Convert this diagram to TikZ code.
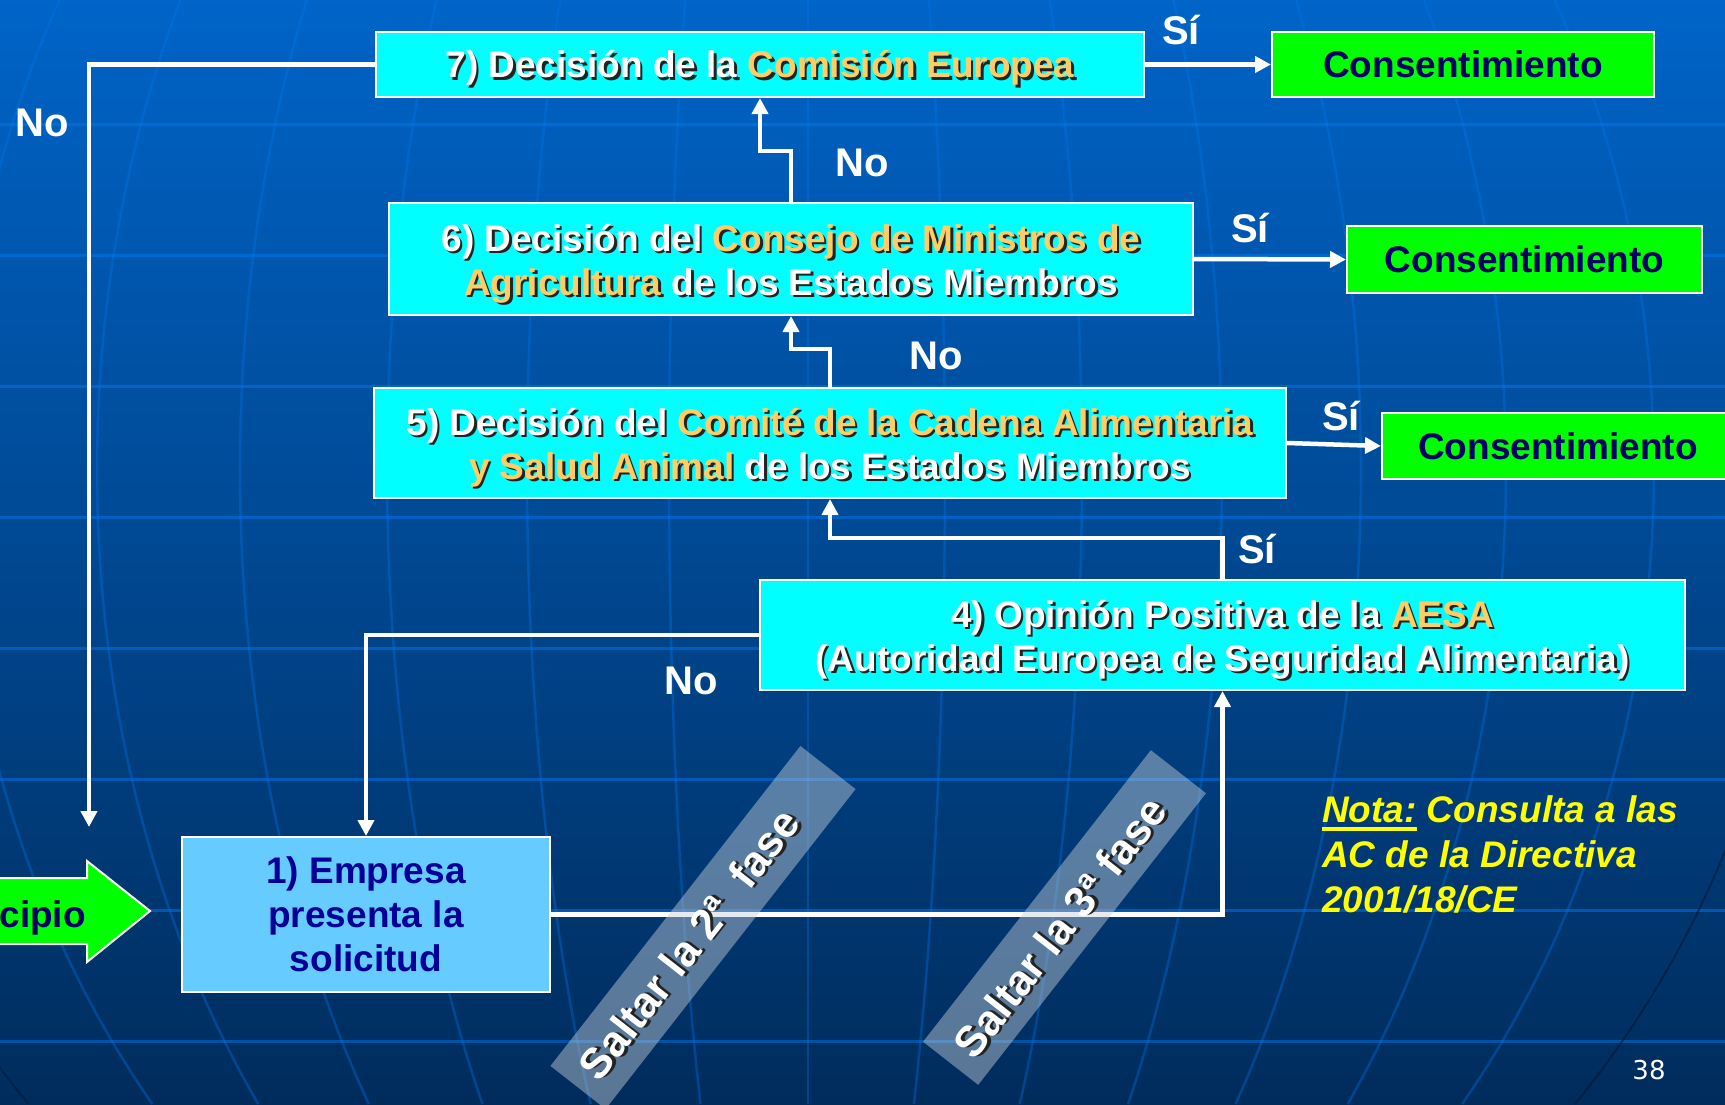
\documentclass[tikz,border=0pt]{standalone}
\usepackage{fontspec}
\setmainfont{Liberation Sans}
\newfontfamily\numfont{DejaVu Sans}
\usetikzlibrary{arrows.meta}

\definecolor{cyanbox}{RGB}{0,255,255}
\definecolor{lightbox}{RGB}{102,204,255}
\definecolor{greenbox}{RGB}{0,255,0}
\definecolor{navy}{RGB}{0,0,102}
\definecolor{navyb}{RGB}{0,0,153}
\definecolor{orng}{RGB}{255,204,102}
\definecolor{shcol}{RGB}{35,35,35}
\definecolor{notey}{RGB}{255,255,0}
\definecolor{bgtop}{RGB}{0,100,200}
\definecolor{bgmid}{RGB}{0,78,156}
\definecolor{bgbot}{RGB}{0,44,92}
\definecolor{gridc}{RGB}{0,120,240}
\definecolor{bannerc}{RGB}{200,210,220}
\definecolor{limbc}{RGB}{0,25,55}

\newcommand\hl[1]{\textcolor{orng}{#1}}
\newcommand\shd[1]{{\def\hl##1{##1}\makebox[0pt][l]{\kern2.5pt\raisebox{-2.5pt}{\color{shcol}#1}}}#1}
\newcommand\ulnote[1]{\setbox0\hbox{#1}\rlap{\rule[-8.5pt]{\wd0}{3.5pt}}\box0\relax}
\newcommand\topstrut[1]{\rule{0pt}{#1}}

\begin{document}
\begin{tikzpicture}[x=1pt,y=-1pt,
  cbox/.style={draw=white, line width=2pt, fill=cyanbox, inner sep=0pt, align=center, text=white, font=\bfseries\fontsize{37}{44}\selectfont},
  gbox/.style={draw=white, line width=2pt, fill=greenbox, inner sep=0pt, text=navy, font=\bfseries\fontsize{37}{44}\selectfont},
  lbox/.style={draw=white, line width=2pt, fill=lightbox, inner sep=0pt, align=center, text=navyb, font=\bfseries\fontsize{37}{44}\selectfont},
  conn/.style={draw=white, line width=4.5pt, -{Triangle[width=16pt,length=16pt]}},
  lbl/.style={text=white, inner sep=0pt, font=\bfseries\fontsize{40}{48}\selectfont},
  banner/.style={fill=bannerc, fill opacity=0.45, inner sep=0pt, rotate=52},
  bantext/.style={text=white, inner sep=0pt, rotate=52, font=\bfseries\fontsize{43}{50}\selectfont},
  notetext/.style={text=notey, inner sep=0pt, anchor=base west, font=\bfseries\itshape\fontsize{37}{45}\selectfont},
  hgrid/.style={draw=gridc, draw opacity=0.5, line width=3pt},
  mgrid/.style={draw=gridc, draw opacity=0.33, line width=2.5pt},
]
\useasboundingbox (0,0) rectangle (1725,1104);
\clip (0,0) rectangle (1725,1104);

% background
\fill[top color=bgtop, middle color=bgmid, bottom color=bgbot] (0,0) rectangle (1725,1104);
\foreach \yy in {124,255,386,517,648,779,910,1041}
  \draw[hgrid] (0,\yy) -- (1725,\yy);
\foreach \xm in {-40,97,240,387,527,669,808,945,1082,1222,1361,1506,1654}
  \draw[mgrid] plot[domain=0:1104, samples=40, variable=\t] ({808+(\xm-808)*sqrt(1-((\t-470)/1000)^2)},\t);
\draw[limbc, draw opacity=0.6, line width=2pt] plot[domain=760:1104, samples=20, variable=\t] ({808+(1800-808)*sqrt(1-((\t-470)/1000)^2)},\t);
\draw[limbc, draw opacity=0.5, line width=2pt] plot[domain=950:1104, samples=12, variable=\t] ({808+(-200-808)*sqrt(1-((\t-470)/1000)^2)},\t);

% boxes
\node[cbox, minimum width=768pt, minimum height=65pt] (b7) at (760,64.5)
  {\topstrut{37pt}\shd{7) Decisión de la \hl{Comisión Europea}}};
\node[gbox, minimum width=382pt, minimum height=65pt] (c1) at (1463,64.5) {Consentimiento};
\node[cbox, minimum width=804pt, minimum height=112pt] (b6) at (791,259)
  {\topstrut{39pt}\shd{6) Decisión del \hl{Consejo de Ministros de}}\\\shd{\hl{Agricultura} de los Estados Miembros}};
\node[gbox, minimum width=355pt, minimum height=67pt] (c2) at (1524.5,259.5) {Consentimiento};
\node[cbox, minimum width=912pt, minimum height=110pt] (b5) at (830,443)
  {\topstrut{39pt}\shd{5) Decisión del \hl{Comité de la Cadena Alimentaria}}\\\shd{\hl{y Salud Animal} de los Estados Miembros}};
\node[gbox, minimum width=352pt, minimum height=66pt] (c3) at (1558,446) {Consentimiento};
\node[cbox, minimum width=925pt, minimum height=110pt] (b4) at (1222.5,635)
  {\topstrut{39pt}\shd{4) Opinión Positiva de la \hl{AESA}}\\\shd{(Autoridad Europea de Seguridad Alimentaria)}};
\node[lbox, minimum width=368pt, minimum height=155pt] (b1) at (366,914.5)
  {1) Empresa\\presenta la\\solicitud};

% start arrow
\draw[fill=greenbox, draw=white, line width=2pt]
  (-10,878) -- (87,878) -- (87,861) -- (150,911) -- (87,962) -- (87,944) -- (-10,944) -- cycle;
\node[text=navy, inner sep=0pt, anchor=base east, font=\bfseries\fontsize{37}{44}\selectfont] (prin) at (86,927) {Principio};

% connectors
\coordinate (lend) at (89,827);
\draw[conn] (b7.west) -| (lend);
\draw[conn] (b7.east) -- (c1.west);
\draw[conn] (b6.east) -- (c2.west);
\draw[conn] (b5.east) -- (c3.west);
\draw[conn] (b6.north) -- ++(0,-51) -| (b7.south);
\draw[conn] (b5.north) -- ++(0,-38) -| (b6.south);
\draw[conn] (b4.north) -- ++(0,-41) -| (b5.south);
\draw[conn] (b4.west) -| (b1.north);
\draw[conn] (b1.east) -| (b4.south);

% labels
\node[lbl] (noA) at (42,123) {No};
\node[lbl] (siA) at (1181,30) {Sí};
\node[lbl] (noB) at (862,163) {No};
\node[lbl] (siB) at (1250,228) {Sí};
\node[lbl] (noC) at (936,356) {No};
\node[lbl] (siC) at (1341,416) {Sí};
\node[lbl] (siD) at (1257,549) {Sí};
\node[lbl] (noD) at (691,681) {No};

% banners
\node[banner, minimum width=406pt, minimum height=70pt] (ban1) at (703,927.5) {};
\node[banner, minimum width=370pt, minimum height=70pt] (ban2) at (1064.5,917.5) {};
\node[bantext] (bt1) at (690,945) {\shd{Saltar la 2ª~~fase}};
\node[bantext] (bt2) at (1061,928) {\shd{Saltar la 3ª fase}};

% note
\node[notetext] (n1) at (1322,822) {\ulnote{Nota:} Consulta a las};
\node[notetext] (n2) at (1322,867) {AC de la Directiva};
\node[notetext] (n3) at (1322,912) {2001/18/CE};

\node[text=white, inner sep=0pt, font=\numfont\fontsize{26}{30}\selectfont] (pg) at (1649,1070) {38};
\end{tikzpicture}
\end{document}
